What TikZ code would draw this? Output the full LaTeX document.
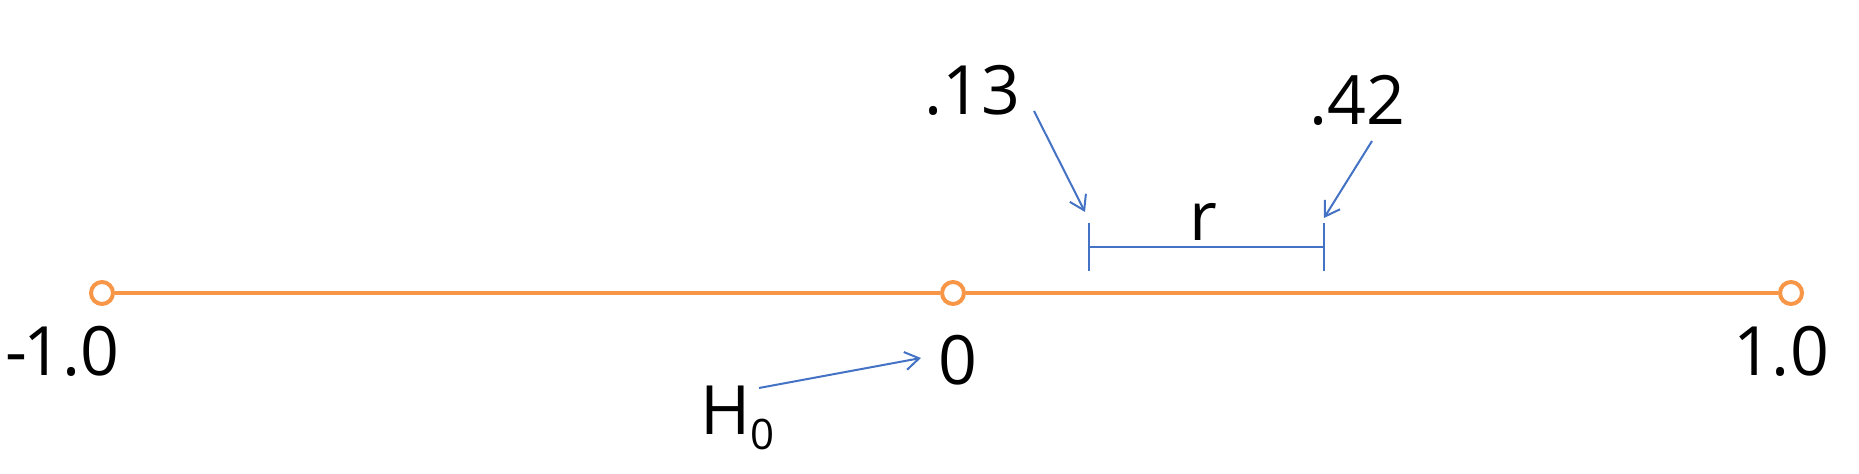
\documentclass[tikz,border=0pt]{standalone}
\usepackage{fontspec}
\setmainfont{Open Sans}
\usetikzlibrary{arrows.meta}
\definecolor{axisorange}{RGB}{247,150,70}
\definecolor{markblue}{RGB}{68,114,196}
\tikzset{
  lbl/.style={inner sep=0pt, font=\fontsize{34}{40}\selectfont, text=black},
  endpt/.style={circle, draw=axisorange, fill=white, line width=2pt, minimum size=11pt, inner sep=0pt},
  axis/.style={draw=axisorange, line width=2pt},
  pointer/.style={draw=markblue, line width=1pt, -{Straight Barb[length=7pt,width=9pt]}},
  bracket/.style={draw=markblue, line width=1pt}
}
\begin{document}
\begin{tikzpicture}[x=0.5pt,y=-0.5pt]
\useasboundingbox (0,0) rectangle (1859,474);
% axis
\node[endpt] (m1) at (102,293) {};
\node[endpt] (z) at (953,293) {};
\node[endpt] (p1) at (1791,293) {};
\draw[axis] (m1) -- (z);
\draw[axis] (z) -- (p1);
% axis labels
\node[lbl, anchor=west] (lm1) at (5,351) {-\kern-2pt1.0};
\node[lbl] (lz) at (958,360) {0};
\node[lbl] (lp1) at (1781,351) {1.0};
% H0
\node[lbl, anchor=base west] (h0) at (700,435) {H\raisebox{-7.5pt}{\fontsize{21}{24}\selectfont 0}};
\coordinate (h0s) at (759,388);
\coordinate (h0e) at (921,358);
\draw[pointer] (h0s) -- (h0e);
% interval
\coordinate (lt) at (1089,223);
\coordinate (lb) at (1089,271);
\coordinate (rt) at (1324,223);
\coordinate (rb) at (1324,271);
\coordinate (lm) at (1089,247);
\coordinate (rm) at (1324,247);
\draw[bracket] (lt) -- (lb);
\draw[bracket] (rt) -- (rb);
\draw[bracket] (lm) -- (rm);
\node[lbl] (r) at (1203,222) {r};
% values
\node[lbl] (v13) at (972,90) {.13};
\node[lbl] (v42) at (1357,100) {.42};
\coordinate (a13s) at (1034,111);
\coordinate (a13e) at (1085,212);
\coordinate (a42s) at (1372,141);
\coordinate (a42e) at (1324,218);
\draw[pointer] (a13s) -- (a13e);
\draw[pointer] (a42s) -- (a42e);
\end{tikzpicture}
\end{document}
